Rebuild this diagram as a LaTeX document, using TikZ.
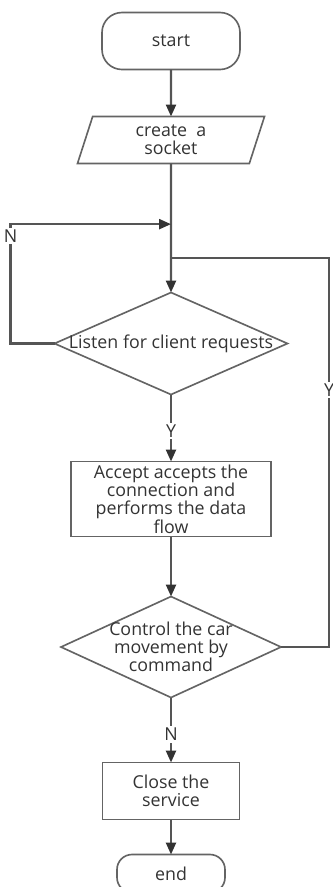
\documentclass[tikz,border=0pt]{standalone}
\usepackage{fontspec}
\setmainfont{Open Sans}
\usetikzlibrary{shapes.geometric, arrows.meta, positioning, calc}
\definecolor{flowline}{RGB}{85,85,85}
\definecolor{flowedge}{RGB}{100,100,100}

\begin{document}
\begin{tikzpicture}[
    node distance=1.4cm,
    every node/.style={font=\fontsize{15.2}{15.6}\selectfont, text=black!80, outer sep=0pt},
    terminal/.style={rectangle, draw=flowedge, line width=1.4pt, rounded corners=0.6cm, minimum width=4.14cm, minimum height=1.71cm, align=center},
    io/.style={trapezium, trapezium left angle=65, trapezium right angle=115, trapezium stretches body, draw=flowedge, line width=1.4pt, minimum width=5.61cm, minimum height=1.41cm, inner sep=1pt, align=center},
    process/.style={rectangle, draw=flowedge, line width=1.4pt, inner sep=1pt, align=center},
    decision/.style={diamond, draw=flowedge, line width=1.4pt, inner sep=0pt},
    line/.style={draw=flowline, line width=2pt},
    arrow/.style={line, -{Triangle[length=0.36cm, width=0.3cm, color=black!80]}},
    tag/.style={fill=white, inner sep=1.5pt}
]
    \useasboundingbox (0,0) rectangle (9.99,-26.61);

    \node[terminal] (start) at (5.13,-1.23) {start};
    \node[io, below=1.41cm of start] (socket) {create\ \ a\\socket};
    \node[decision, minimum width=6.99cm, minimum height=3.06cm, below=3.87cm of socket, label=center:Listen for client requests] (listen) {};
    \node[process, minimum width=6cm, minimum height=2.25cm, below=2.01cm of listen] (accept) {Accept accepts the\\connection and\\performs the data\\flow};
    \node[decision, minimum width=6.6cm, minimum height=3.03cm, below=1.8cm of accept, label={[align=center]center:Control the car\\movement by\\command}] (control) {};
    \node[process, minimum width=4.11cm, minimum height=1.71cm, below=1.95cm of control] (close) {Close the\\service};
    \node[terminal, rounded corners=0.45cm, minimum width=3.24cm, minimum height=1.14cm, below=1.05cm of close] (finish) {end};

    \coordinate (njoin) at ($(socket.south)!0.47!(listen.north)$);
    \coordinate (yjoin) at ($(socket.south)!0.73!(listen.north)$);

    \draw[arrow] (start) -- (socket);
    \draw[arrow] (socket) -- (listen);
    \draw[arrow] (listen.west) -- ++(-1.32,0) |- node[tag, pos=0.45] {N} (njoin);
    \draw[arrow] (listen) -- node[tag, pos=0.55] {Y} (accept);
    \draw[arrow] (accept) -- (control);
    \draw[line] (control.east) -- ++(1.44,0) |- node[tag, pos=0.33] {Y} (yjoin);
    \draw[arrow] (control) -- node[tag, pos=0.57] {N} (close);
    \draw[arrow] (close) -- (finish);
\end{tikzpicture}
\end{document}
